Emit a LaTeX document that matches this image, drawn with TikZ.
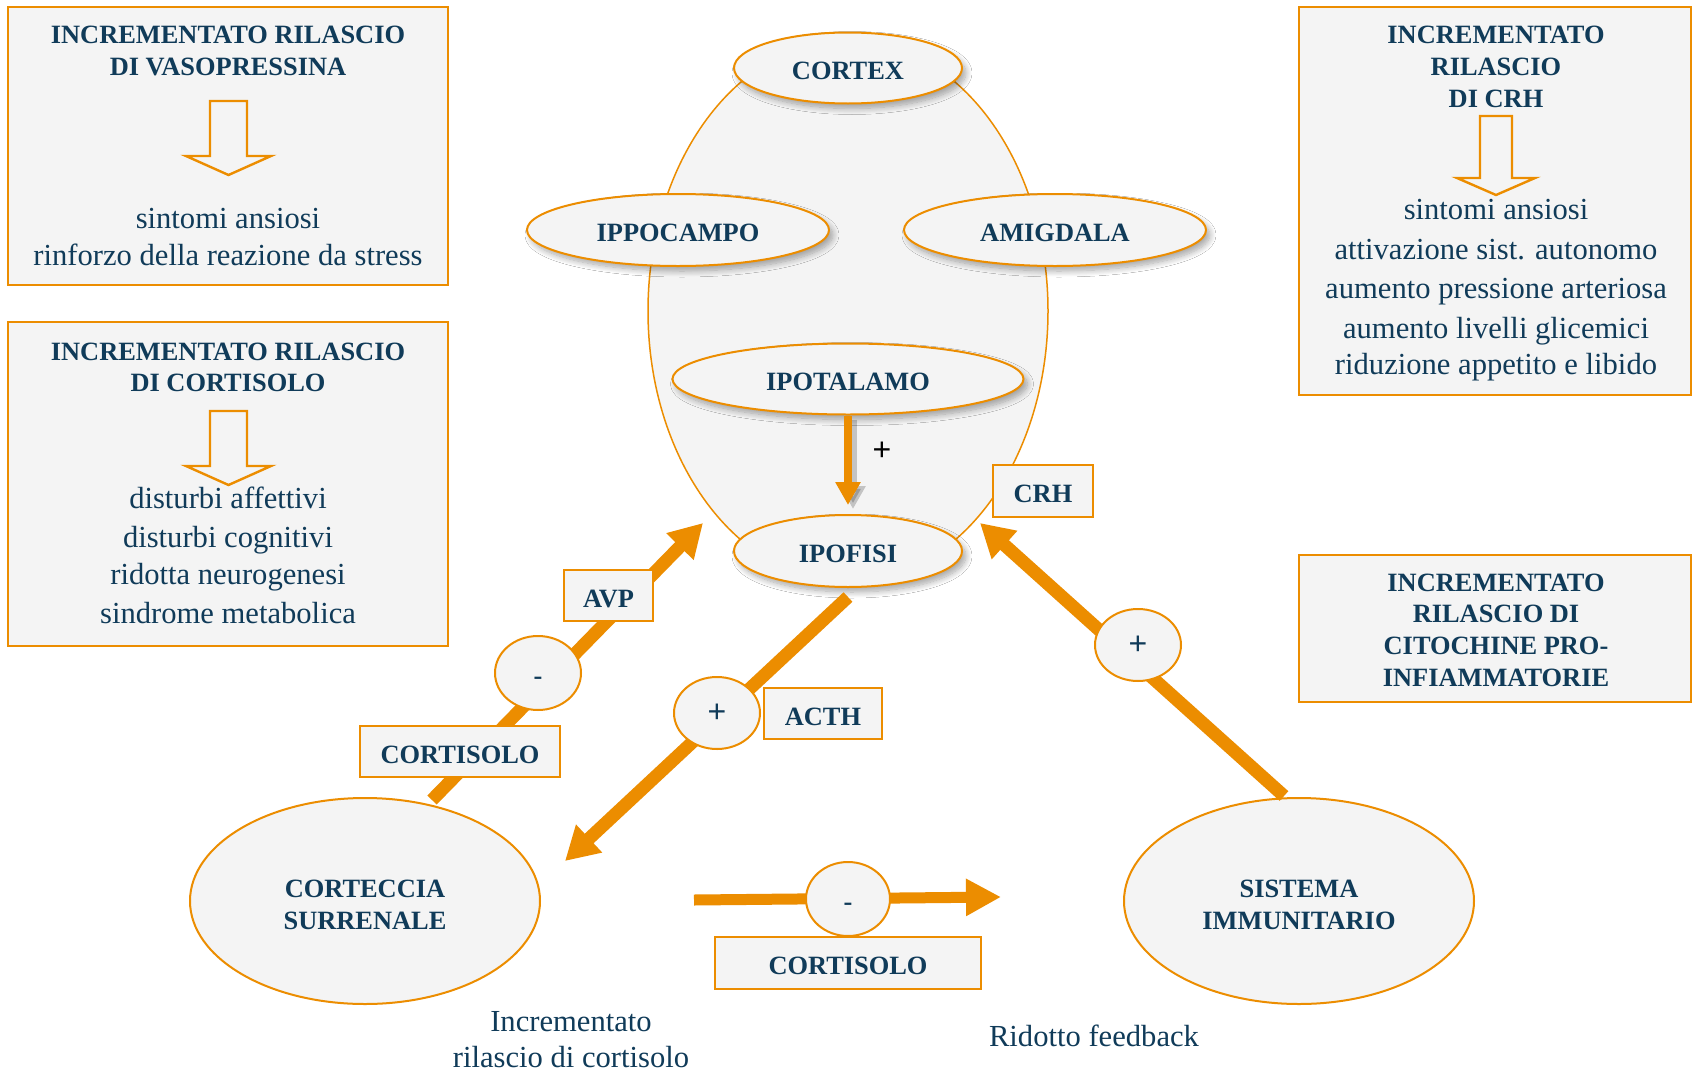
\documentclass[tikz,border=0pt]{standalone}
\usepackage{fontspec}
\setmainfont{Liberation Serif}
\newfontfamily\plusfont{Liberation Sans}
\usetikzlibrary{shapes.geometric,arrows.meta,shadows.blur}
\definecolor{ocol}{RGB}{236,141,0}
\definecolor{tcol}{RGB}{16,59,89}
\definecolor{gfill}{RGB}{244,244,244}
\begin{document}
\begin{tikzpicture}[x=0.5pt,y=-0.5pt,
 lbl/.style={font=\fontsize{13.2}{16}\selectfont\bfseries, text=tcol},
 body/.style={font=\fontsize{15.3}{19}\selectfont, text=tcol},
 lift/.style={execute at begin node={\rule{0pt}{11.7pt}}},
 panel/.style={rectangle, draw=ocol, line width=1pt, fill=gfill, inner sep=0pt},
 oval/.style={ellipse, draw=ocol, line width=1pt, fill=gfill, inner sep=0pt, lbl, align=center},
 tag/.style={rectangle, draw=ocol, line width=1pt, fill=gfill, inner sep=0pt, lbl, lift},
 sh/.style={blur shadow={shadow xshift=2pt, shadow yshift=-2.5pt, shadow blur radius=3pt, shadow blur steps=10, shadow opacity=35}},
 bigarrow/.style={draw=ocol, line width=6.5pt, -{Triangle[length=16.5pt,width=18pt]}},
 hollow/.style={draw=ocol, line width=1.2pt, fill=gfill, line join=miter},
 plussign/.style={font=\plusfont\mdseries\fontsize{16}{18}\selectfont},
]
\useasboundingbox (0,0) rectangle (1693,1071);
\fill[white] (0,0) rectangle (1693,1071);

% brain outline
\node[ellipse, draw=ocol, line width=0.75pt, fill=gfill, minimum width=200pt, minimum height=271pt, inner sep=0pt] (brain) at (848,311) {};

% small ellipses
\node[oval, lift, sh, minimum width=114pt, minimum height=35.5pt] (cortex) at (848,68) {CORTEX};
\node[oval, lift, sh, minimum width=151pt, minimum height=36pt] (ippo) at (678,230) {IPPOCAMPO};
\node[oval, lift, sh, minimum width=151pt, minimum height=36pt] (amig) at (1055,230) {AMIGDALA};
\node[oval, lift, sh, minimum width=175.5pt, minimum height=35.5pt] (ipot) at (848,379) {IPOTALAMO};
\node[oval, lift, sh, minimum width=114pt, minimum height=36pt] (ipof) at (848,551) {IPOFISI};

% bottom ellipses
\node[oval, minimum width=175pt, minimum height=103pt] (cort) at (365,901) {};
\node[lbl, align=center] (cortT) at (365,904.5) {CORTECCIA\\SURRENALE};
\node[oval, minimum width=175pt, minimum height=103pt] (sist) at (1299,901) {};
\node[lbl, align=center] (sistT) at (1299,904.5) {SISTEMA\\IMMUNITARIO};

% panels
\node[panel, minimum width=220pt, minimum height=139pt] (p1) at (228,146) {};
\node[panel, minimum width=220pt, minimum height=162pt] (p2) at (228,484) {};
\node[panel, minimum width=196pt, minimum height=194pt] (p3) at (1495,201) {};
\node[panel, minimum width=196pt, minimum height=73.5pt] (p4) at (1495,628.5) {};

% panel 1 texts
\node[lbl, anchor=base] (p1a) at (228,43) {INCREMENTATO RILASCIO};
\node[lbl, anchor=base] (p1b) at (228,75) {DI VASOPRESSINA};
\node[body, anchor=base] (p1c) at (228,228) {sintomi ansiosi};
\node[body, anchor=base] (p1d) at (228,265) {rinforzo della reazione da stress};
\draw[hollow] (210,101) -- (247,101) -- (247,156) -- (271,156) -- (228.5,175) -- (186,156) -- (210,156) -- cycle;

% panel 2 texts
\node[lbl, anchor=base] (p2a) at (228,360) {INCREMENTATO RILASCIO};
\node[lbl, anchor=base] (p2b) at (228,391) {DI CORTISOLO};
\draw[hollow] (210,411) -- (247,411) -- (247,466) -- (271,466) -- (228.5,485) -- (186,466) -- (210,466) -- cycle;
\node[body, anchor=base] (p2c) at (228,508) {disturbi affettivi};
\node[body, anchor=base] (p2d) at (228,547) {disturbi cognitivi};
\node[body, anchor=base] (p2e) at (228,584) {ridotta neurogenesi};
\node[body, anchor=base] (p2f) at (228,623) {sindrome metabolica};

% panel 3 texts
\node[lbl, anchor=base] (p3a) at (1496,43) {INCREMENTATO};
\node[lbl, anchor=base] (p3b) at (1496,75) {RILASCIO};
\node[lbl, anchor=base] (p3c) at (1496,107) {DI CRH};
\draw[hollow] (1480,116) -- (1512,116) -- (1512,178) -- (1535,178) -- (1496,195) -- (1457,178) -- (1480,178) -- cycle;
\node[body, anchor=base] (p3d) at (1496,219) {sintomi ansiosi};
\node[body, anchor=base] (p3e) at (1496,259) {attivazione sist. autonomo};
\node[body, anchor=base] (p3f) at (1496,298) {aumento pressione arteriosa};
\node[body, anchor=base] (p3g) at (1496,338) {aumento livelli glicemici};
\node[body, anchor=base] (p3h) at (1496,374) {riduzione appetito e libido};

% panel 4 texts
\node[lbl, anchor=base] (p4a) at (1496,591) {INCREMENTATO};
\node[lbl, anchor=base] (p4b) at (1496,622) {RILASCIO DI};
\node[lbl, anchor=base] (p4c) at (1496,654) {CITOCHINE PRO-};
\node[lbl, anchor=base] (p4d) at (1496,686) {INFIAMMATORIE};

% connector end points
\coordinate (vtip) at (848,505);
\coordinate (avpS) at (432,800);
\coordinate (avpT) at (703,523);
\coordinate (acthS) at (848,597);
\coordinate (acthT) at (565,861);
\coordinate (crhS) at (1284,796);
\coordinate (crhT) at (980,523);
\coordinate (botS) at (694,900);
\coordinate (botT) at (1001,897);

% hypothalamus -> pituitary
\draw[black, opacity=0.2, line width=4pt, -{Triangle[length=11.5pt,width=12pt]}, transform canvas={xshift=2.5pt,yshift=-2pt}] (ipot.south) -- (vtip);
\draw[ocol, line width=4pt, -{Triangle[length=11.5pt,width=12pt]}] (ipot.south) -- (vtip);

% big arrows
\draw[bigarrow] (avpS) -- (avpT);
\draw[bigarrow] (acthS) -- (acthT);
\draw[bigarrow] (crhS) -- (crhT);
\draw[draw=ocol, line width=5.5pt, -{Triangle[length=17.5pt,width=17.5pt]}] (botS) -- (botT);

% sign circles
\node[oval, lift, minimum width=43pt, minimum height=37pt] (m1) at (538,673) {-};
\node[oval, plussign, text=tcol, minimum width=43pt, minimum height=36pt] (m2) at (717,713) {+};
\node[oval, plussign, text=tcol, minimum width=43pt, minimum height=36pt] (m3) at (1138,645) {+};
\node[oval, lift, minimum width=42pt, minimum height=37pt] (m4) at (848,899) {-};

% tag boxes
\node[tag, minimum width=50pt, minimum height=26pt] (crh) at (1043,491) {CRH};
\node[tag, minimum width=44.5pt, minimum height=25.5pt] (avp) at (608.5,595.5) {AVP};
\node[tag, minimum width=100pt, minimum height=25.5pt] (cortL) at (460,751.5) {CORTISOLO};
\node[tag, minimum width=59pt, minimum height=25.5pt] (acth) at (823,713.5) {ACTH};
\node[tag, minimum width=133pt, minimum height=26pt] (cortB) at (848,963) {CORTISOLO};

% free texts
\node[plussign, text=black] (plus) at (882,451) {+};
\node[body, anchor=base] (inc1) at (571,1031) {Incrementato};
\node[body, anchor=base] (inc2) at (571,1067) {rilascio di cortisolo};
\node[body, anchor=base] (rid) at (1094,1046) {Ridotto feedback};
\end{tikzpicture}
\end{document}
